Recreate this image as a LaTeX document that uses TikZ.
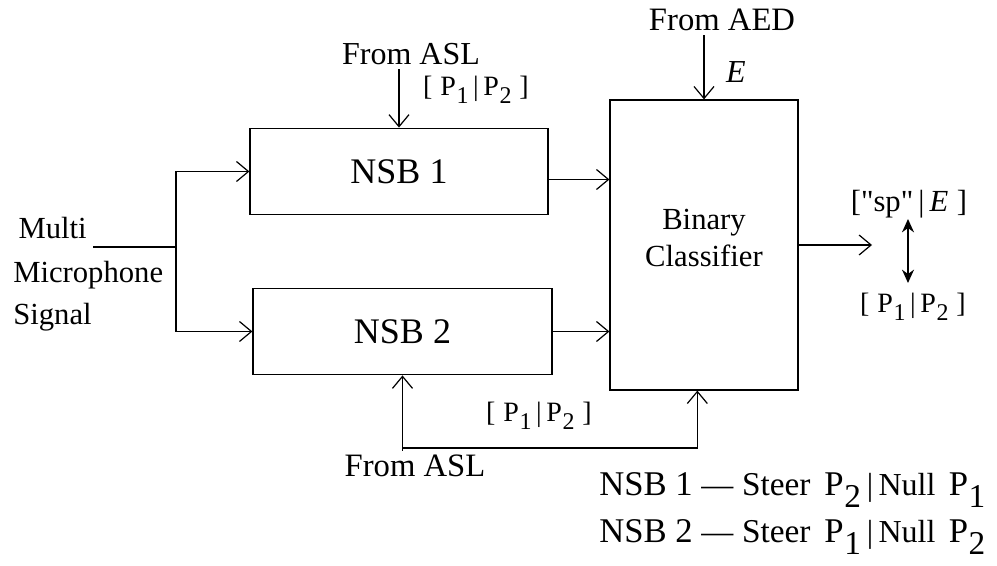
\documentclass[tikz,border=0pt]{standalone}
\usepackage{fontspec}
\setmainfont{Liberation Serif}
\newfontfamily\plainquote{Liberation Serif}[Ligatures=TeXOff]
\usetikzlibrary{arrows.meta,calc}
\newcommand{\fs}[1]{\fontsize{#1}{#1}\selectfont}
% P with a lowered index, size of the index and drop given
\newcommand{\Pidx}[3]{P\kern0.5pt\raisebox{-#3}{\fs{#2}#1}}
\newcommand{\pbar}{\fs{21}[\;\Pidx{1}{18}{6pt}\,|\,\Pidx{2}{18}{6pt}\;]}
\newcommand{\dq}{{\plainquote"}}
\begin{document}
\begin{tikzpicture}[x=0.75pt,y=-0.75pt,
  box/.style={draw,line width=0.9pt,inner sep=0pt,align=center},
  lbl/.style={inner sep=0pt,align=center},
  arr/.style={line width=0.9pt,-{Straight Barb[length=9pt,width=15pt,line width=0.9pt]}},
  wire/.style={line width=0.9pt},
  dbl/.style={line width=1.1pt,{Stealth[length=10pt,width=9pt]}-{Stealth[length=10pt,width=9pt]}}]
\useasboundingbox (0,0) rectangle (997,566);

% processing blocks
\node[box,minimum width=223.5pt,minimum height=65pt] (nsb1) at (399,171.5) {\fs{27}NSB 1};
\node[box,minimum width=224.25pt,minimum height=65pt] (nsb2) at (402.5,331.5) {\fs{27}NSB 2};
\node[box,minimum width=141pt,minimum height=217.5pt] (cls) at (704,245) {};
\node[lbl] (clsl) at (704,238) {\fs{23}Binary\\[6pt]\fs{23}Classifier};

% input signal
\node[lbl,align=left,anchor=west] (mic) at (13,274) {\fs{23}\hspace*{4pt}Multi\\[16pt]\fs{23}Microphone\\[9pt]\fs{23}Signal};
\coordinate (in) at (93,247);
\coordinate (split) at (176,247);
\draw[wire] (in) -- (split);
\draw[arr] (split) |- (nsb1.west);
\draw[arr] (split) |- (nsb2.west);

% block outputs into the classifier
\draw[arr] ([yshift=-6pt]nsb1.east) -- ([yshift=-6pt]nsb1.east -| cls.west);
\draw[arr] (nsb2.east) -- (nsb2.east -| cls.west);

% steering input from ASL (top)
\node[lbl] (asl1) at (411,54) {\fs{24}From ASL};
\draw[arr] ([yshift=-3pt]asl1.south -| nsb1.north) -- (nsb1.north);
\node[lbl] (p1) at (476,90) {\pbar};

% event input from AED
\node[lbl] (aed) at (722,20) {\fs{24.5}From AED};
\draw[arr] ([yshift=-3pt]aed.south -| cls.north) -- (cls.north);
\node[lbl] (e) at (736,72) {\fs{24}\textit{E}};

% steering input from ASL (bottom)
\node[lbl] (asl2) at (415,466) {\fs{24.5}From ASL};
\coordinate (br) at (403,448);
\draw[arr] ([yshift=3pt]asl2.north -| nsb2.south) -- (nsb2.south);
\draw[arr] (br) -| ([xshift=-5pt]cls.south);
\node[lbl] (p2) at (539,416) {\pbar};

% classifier output
\coordinate (out) at (872,245);
\draw[arr] (cls.east) -- (out);
\node[lbl] (sp) at (909,204) {\fs{23}[\dq sp\dq\,|\,\textit{E}\;]};
\node[lbl] (pp) at (913,307) {\pbar};
\coordinate (da) at (908,219);
\coordinate (db) at (908,283);
\draw[dbl] (da) -- (db);

% beam assignment legend
\node[lbl,anchor=base west] (l1) at (599,496) {\fs{26}NSB 1 {\fs{24}---} \fs{25}Steer\, \fs{26}\Pidx{2}{25}{9pt}\,\fs{24}|\,Null\, \fs{26}\Pidx{1}{25}{9pt}};
\node[lbl,anchor=base west] (l2) at (599,543) {\fs{26}NSB 2 {\fs{24}---} \fs{25}Steer\, \fs{26}\Pidx{1}{25}{9pt}\,\fs{24}|\,Null\, \fs{26}\Pidx{2}{25}{9pt}};
\end{tikzpicture}
\end{document}
